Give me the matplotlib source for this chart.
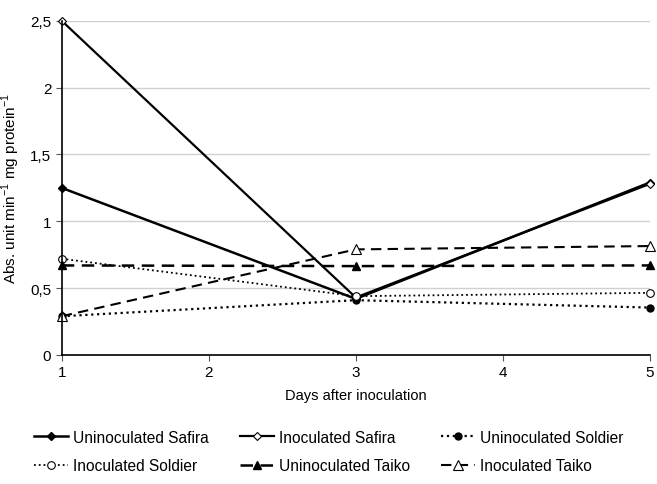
import matplotlib
matplotlib.use("Agg")
import matplotlib.pyplot as plt

plt.rcParams['font.family'] = ['Liberation Sans', 'DejaVu Sans']

days = [1, 3, 5]
unin_safira = [1.25, 0.42, 1.29]
inoc_safira = [2.5, 0.43, 1.28]
unin_soldier = [0.29, 0.41, 0.355]
inoc_soldier = [0.72, 0.44, 0.465]
unin_taiko = [0.67, 0.665, 0.67]
inoc_taiko = [0.29, 0.79, 0.815]

fig = plt.figure(figsize=(6.57, 4.85), dpi=100)
ax = fig.add_axes([0.094, 0.266, 0.895, 0.689])

ax.plot(days, unin_safira, color='black', lw=1.8, marker='D', ms=4.5, mfc='black', label='Uninoculated Safira')
ax.plot(days, inoc_safira, color='black', lw=1.6, marker='D', ms=4.5, mfc='white', mew=0.8, label='Inoculated Safira')
ax.plot(days, unin_soldier, color='black', lw=1.6, ls=':', marker='o', ms=5, mfc='black', label='Uninoculated Soldier')
ax.plot(days, inoc_soldier, color='black', lw=1.3, ls=':', marker='o', ms=5.5, mfc='white', mew=0.8, label='Inoculated Soldier')
ax.plot(days, unin_taiko, color='black', lw=1.8, ls=(0, (5, 3)), marker='^', ms=6, mfc='black', label='Uninoculated Taiko')
ax.plot(days, inoc_taiko, color='black', lw=1.5, ls=(0, (5, 3)), marker='^', ms=6.5, mfc='white', mew=0.8, label='Inoculated Taiko')

ax.set_xlim(1, 5)
ax.set_ylim(0, 2.5)
ax.set_xticks([1, 2, 3, 4, 5])
ax.set_yticks([0, 0.5, 1, 1.5, 2, 2.5])
ax.set_yticklabels(['0', '0,5', '1', '1,5', '2', '2,5'])
ax.yaxis.grid(True, color='#d0d0d0', lw=1)
ax.set_axisbelow(True)
for s in ['top', 'right']:
    ax.spines[s].set_visible(False)
ax.spines['left'].set_linewidth(1.2)
ax.spines['bottom'].set_linewidth(1.2)
ax.tick_params(labelsize=11, length=4, color='#555555')
ax.set_xlabel('Days after inoculation', fontsize=10.5, labelpad=6)
ax.set_ylabel('Abs. unit min$^{\\mathregular{-1}}$ mg protein$^{\\mathregular{-1}}$', fontsize=11)
ax.yaxis.set_label_coords(-0.068, 0.5)
for m in ax.get_lines():
    m.set_clip_on(False)

handles, labels = ax.get_legend_handles_labels()
order = [0, 3, 1, 4, 2, 5]
fig.legend([handles[i] for i in order], [labels[i] for i in order],
           loc='lower center', ncol=3, frameon=False, fontsize=11.2,
           bbox_to_anchor=(0.5, 0.0), columnspacing=2.0, handlelength=2.2,
           handletextpad=0.3, labelspacing=0.85, borderaxespad=0.3)

fig.savefig('out.png', dpi=100)
